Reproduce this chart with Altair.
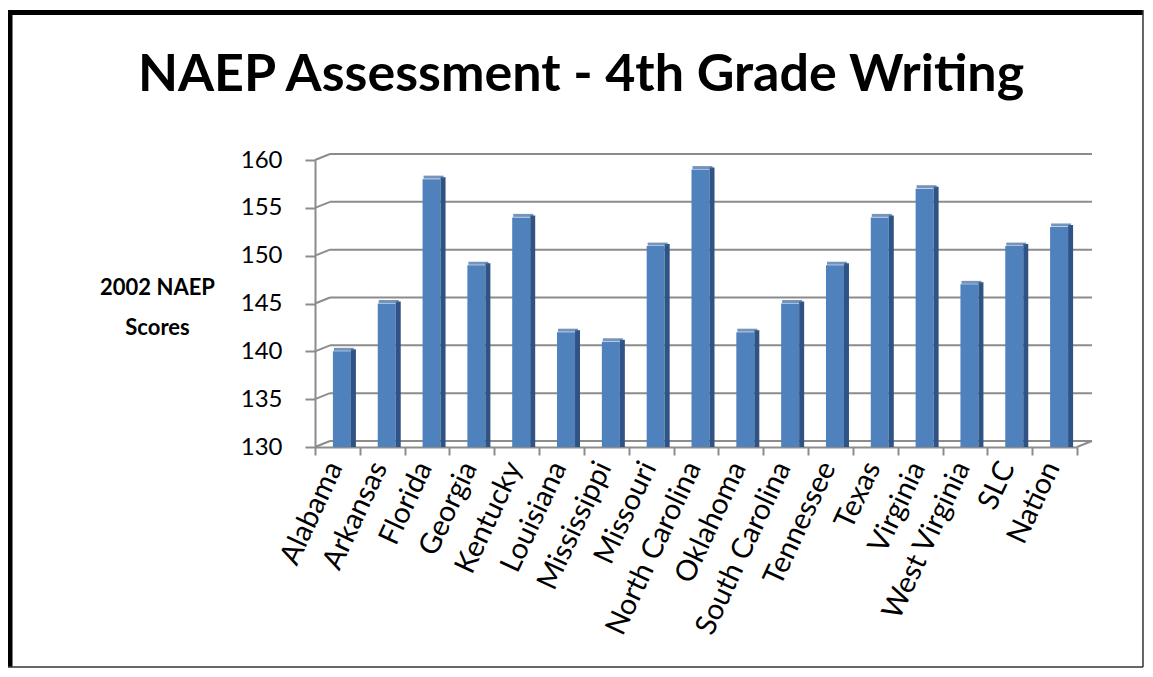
import altair as alt
import pandas as pd

states = ["Alabama", "Arkansas", "Florida", "Georgia", "Kentucky", "Louisiana",
          "Mississippi", "Missouri", "North Carolina", "Oklahoma", "South Carolina",
          "Tennessee", "Texas", "Virginia", "West Virginia", "SLC", "Nation"]
scores = [140, 145, 158, 149, 154, 142, 141, 151, 159, 142, 145, 149, 154, 157, 147, 151, 153]
ticks = [130, 135, 140, 145, 150, 155, 160]
y_title = ["2002 NAEP", "Scores"]
chart_title = ["NAEP Assessment - 4th Grade Writing"]

df = pd.DataFrame({"state": states, "score": scores})
grid_df = pd.DataFrame({"v": ticks})
title_df = pd.DataFrame({"t": chart_title})
one = alt.Data(values=[{"k": 1}])

W, H = 762, 287
GRID = "#8c8c8c"
FONT = "Lato"

yscale = alt.Scale(domain=[130, 160], nice=False, zero=False)
xscale = alt.Scale(paddingInner=0, paddingOuter=0)

yaxis = alt.Axis(values=ticks, title=y_title, titleAngle=0,
                 titleX=-158, titleY=127, titleAlign="center",
                 titleBaseline="middle", titleFont=FONT, titleFontSize=22,
                 titleFontWeight="bold", titleColor="#000000",
                 titleLineHeight=40,
                 labelFont=FONT, labelFontSize=24, labelColor="#000000",
                 labelPadding=23, domainColor=GRID, domainWidth=2,
                 tickColor=GRID, tickWidth=2, tickSize=10, grid=False, orient="left")

# back wall grid lines (also carries the y axis)
back_grid = alt.Chart(grid_df).mark_rule(color=GRID, strokeWidth=2, yOffset=-6).encode(
    x=alt.value(15), x2=alt.value(W + 15),
    y=alt.Y("v:Q", scale=yscale, axis=yaxis),
)
# diagonal connectors from front axis to back wall
diag = alt.Chart(grid_df).mark_rule(color=GRID, strokeWidth=2, y2Offset=-6).encode(
    x=alt.value(0), x2=alt.value(15),
    y=alt.Y("v:Q", scale=yscale),
    y2=alt.Y2("v:Q"),
)
diag_right = alt.Chart(one).mark_rule(color=GRID, strokeWidth=2, y2Offset=-6).encode(
    x=alt.value(W), x2=alt.value(W + 15),
    y=alt.datum(130, scale=yscale), y2=alt.datum(130),
)

xenc = alt.X("state:N", sort=states, scale=xscale,
             axis=alt.Axis(title=None, labelAngle=295, labelAlign="right",
                           labelBaseline="middle", labelFont=FONT, labelFontSize=29,
                           labelColor="#000000", labelPadding=8, labelLimit=0,
                           labelOffset=-3,
                           domainColor=GRID, domainWidth=2,
                           tickColor=GRID, tickWidth=2, tickSize=8,
                           tickBand="extent", grid=False))

bars = alt.Chart(df).mark_bar(size=18, xOffset=4.5, color="#4F81BD").encode(
    x=xenc,
    y=alt.Y("score:Q", scale=yscale),
    y2=alt.datum(130),
)
sides = alt.Chart(df).mark_bar(size=5, xOffset=16, yOffset=-2, color="#2F5384").encode(
    x=alt.X("state:N", sort=states, scale=xscale),
    y=alt.Y("score:Q", scale=yscale),
    y2=alt.datum(130),
)
tops = alt.Chart(df).mark_tick(size=20, thickness=3, xOffset=6.5, yOffset=-2,
                               color="#3B679E").encode(
    x=alt.X("state:N", sort=states, scale=xscale),
    y=alt.Y("score:Q", scale=yscale),
)

title_mark = alt.Chart(title_df).mark_text(
    font=FONT, fontSize=52, fontWeight="bold", color="#000000",
    align="center", baseline="alphabetic").encode(
    x=alt.value(266), y=alt.value(-69), text="t:N")

# outer frame
frame_left = alt.Chart(one).mark_rule(color="#000000", strokeWidth=5).encode(
    x=alt.value(-305), y=alt.value(-150), y2=alt.value(507))
frame_top = alt.Chart(one).mark_rule(color="#000000", strokeWidth=5).encode(
    x=alt.value(-307), x2=alt.value(828), y=alt.value(-147.5))
frame_right = alt.Chart(one).mark_rule(color="#333333", strokeWidth=1.5).encode(
    x=alt.value(828), y=alt.value(-150), y2=alt.value(507))
frame_bottom = alt.Chart(one).mark_rule(color="#333333", strokeWidth=1.5).encode(
    x=alt.value(-307), x2=alt.value(828), y=alt.value(507))

chart = alt.layer(
    back_grid, diag, diag_right, bars, sides, tops, title_mark,
    frame_left, frame_top, frame_right, frame_bottom,
).properties(
    width=W, height=H,
    padding={"left": 307, "top": 152, "right": 67, "bottom": 221},
    autosize=alt.AutoSizeParams(type="none"),
    background="#ffffff",
).configure_view(stroke=None)

chart.save("out.html", embed_options={"renderer": "svg", "actions": False})
